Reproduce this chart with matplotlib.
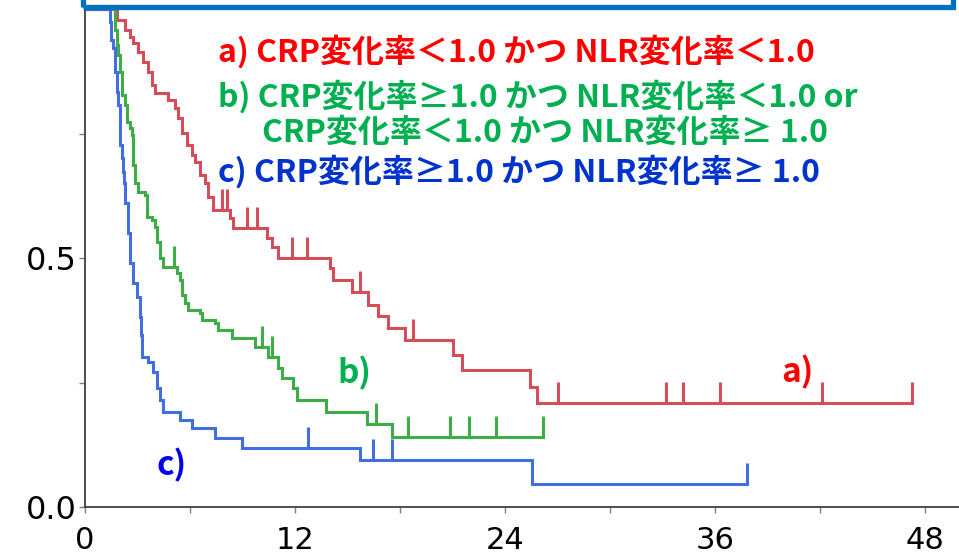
import matplotlib.pyplot as plt
from matplotlib.patches import Rectangle
import numpy as np

# --- data (months, survival proportion) ---
a_times = [1.83, 2.29, 2.57, 2.74, 3.03, 3.31, 3.6, 3.83, 4.0, 4.74, 5.14, 5.31,
           5.54, 5.83, 6.11, 6.29, 6.57, 6.86, 7.03, 7.31, 8.29, 8.46, 10.4, 10.69,
           11.03, 14.0, 14.17, 15.26, 16.17, 16.74, 17.31, 18.29, 21.03, 21.54,
           25.43, 25.83]
a_surv = [0.978, 0.958, 0.944, 0.932, 0.914, 0.894, 0.873, 0.847, 0.831, 0.817,
          0.801, 0.781, 0.751, 0.727, 0.707, 0.693, 0.667, 0.651, 0.622, 0.596,
          0.580, 0.560, 0.540, 0.522, 0.500, 0.480, 0.456, 0.432, 0.406, 0.384,
          0.360, 0.335, 0.305, 0.275, 0.241, 0.209]
a_end = 47.26
a_cens = [7.83, 8.11, 9.26, 9.83, 11.83, 12.69, 15.71, 18.74, 27.03, 33.2,
          34.17, 36.29, 42.11, 47.26]

b_times = [1.71, 1.83, 1.89, 2.0, 2.11, 2.29, 2.4, 2.57, 2.69, 2.74, 2.86, 3.03,
           3.43, 3.54, 3.83, 4.0, 4.11, 4.29, 4.46, 5.26, 5.43, 5.54, 5.71, 5.89,
           6.57, 6.69, 7.43, 7.6, 8.4, 9.71, 10.46, 11.03, 11.26, 11.89, 12.11,
           13.77, 16.11, 17.54]
b_surv = [0.958, 0.928, 0.908, 0.874, 0.827, 0.807, 0.773, 0.761, 0.747, 0.687,
          0.651, 0.633, 0.627, 0.582, 0.576, 0.562, 0.532, 0.500, 0.482, 0.470,
          0.456, 0.426, 0.410, 0.396, 0.390, 0.376, 0.369, 0.355, 0.339, 0.321,
          0.301, 0.279, 0.259, 0.239, 0.215, 0.191, 0.167, 0.141]
b_end = 26.17
b_cens = [5.1, 10.11, 10.69, 16.63, 18.46, 20.86, 21.94, 23.49, 26.17]

c_times = [1.43, 1.49, 1.6, 1.71, 1.83, 1.89, 2.0, 2.11, 2.17, 2.23, 2.29, 2.46,
           2.57, 2.74, 2.97, 3.14, 3.2, 3.26, 3.6, 3.89, 4.11, 4.29, 4.46, 5.43,
           6.11, 7.43, 8.97, 15.71, 25.54]
c_surv = [0.974, 0.938, 0.922, 0.873, 0.833, 0.807, 0.727, 0.701, 0.673, 0.651,
          0.610, 0.550, 0.490, 0.450, 0.422, 0.382, 0.345, 0.301, 0.291, 0.271,
          0.239, 0.215, 0.191, 0.175, 0.159, 0.139, 0.118, 0.094, 0.046]
c_end = 37.83
c_cens = [12.74, 16.46, 17.54, 37.83]

x_ticks = [0, 12, 24, 36, 48]
y_ticks = [0.0, 0.5]

legend_lines = [
    ("a) CRP変化率＜1.0 かつ NLR変化率＜1.0", "#FF0000"),
    ("b) CRP変化率≥1.0 かつ NLR変化率＜1.0 or", "#00B050"),
    ("CRP変化率＜1.0 かつ NLR変化率≥ 1.0", "#00B050"),
    ("c) CRP変化率≥1.0 かつ NLR変化率≥ 1.0", "#0033CC"),
]

JP = ['Noto Sans CJK JP', 'DejaVu Sans']

fig = plt.figure(figsize=(9.59, 5.58), dpi=100)
ax = fig.add_axes([85 / 959, 51 / 558, (959 - 85) / 959, 498 / 558])


def km(ax, times, surv, end, cens, color):
    t = np.array([0] + times + [end])
    s = np.array([1.0] + surv + [surv[-1]])
    ax.step(t, s, where='post', color=color, lw=2.2, clip_on=False,
            solid_joinstyle='miter')
    # censor ticks sit on the curve level at that time
    idx = np.searchsorted(t, cens, side='right') - 1
    lv = s[idx]
    ax.vlines(cens, lv, lv + 0.042, color=color, lw=2.2, clip_on=False)


km(ax, a_times, a_surv, a_end, a_cens, '#D64C5A')
km(ax, b_times, b_surv, b_end, b_cens, '#3DAE46')
km(ax, c_times, c_surv, c_end, c_cens, '#416EE0')

ax.set_xlim(0, (959 - 85) / 17.5)
ax.set_ylim(0, 1.0)
ax.set_xticks(x_ticks)
ax.set_xticks([6, 18, 30, 42], minor=True)
ax.set_yticks(y_ticks)
ax.set_yticklabels(['0.0', '0.5'])
ax.set_yticks([0.25, 0.75], minor=True)
for sp in ['top', 'right']:
    ax.spines[sp].set_visible(False)
for sp in ['left', 'bottom']:
    ax.spines[sp].set_color('#404040')
    ax.spines[sp].set_linewidth(1.3)
ax.tick_params(which='both', direction='out', length=4, width=1, color='#808080')
ax.tick_params(axis='x', labelsize=22, pad=10)
ax.tick_params(axis='y', labelsize=23, pad=2)

# legend text block
ys = [0.914, 0.823, 0.751, 0.673]
xs = [7.6, 7.6, 10.1, 7.6]
for (txt, col), x, y in zip(legend_lines, xs, ys):
    ax.text(x, y, txt, color=col, fontsize=23, fontweight='bold',
            family=JP, va='center', ha='left')

ax.text(40.7, 0.271, "a)", color='#FF0000', fontsize=24, fontweight='bold',
        family=JP, ha='center', va='center')
ax.text(15.4, 0.269, "b)", color='#00B050', fontsize=24, fontweight='bold',
        family=JP, ha='center', va='center')
ax.text(4.97, 0.084, "c)", color='#0000EE', fontsize=24, fontweight='bold',
        family=JP, ha='center', va='center')

# blue frame of the slide title box, cut off at the top
box = Rectangle((82.5 / 959, (558 - 6.5) / 558), (953 - 82.5) / 959, 0.2,
                transform=fig.transFigure, fill=False, edgecolor='#0070C0',
                lw=3.8, clip_on=False)
fig.patches.append(box)

fig.savefig('out.png', dpi=100)
